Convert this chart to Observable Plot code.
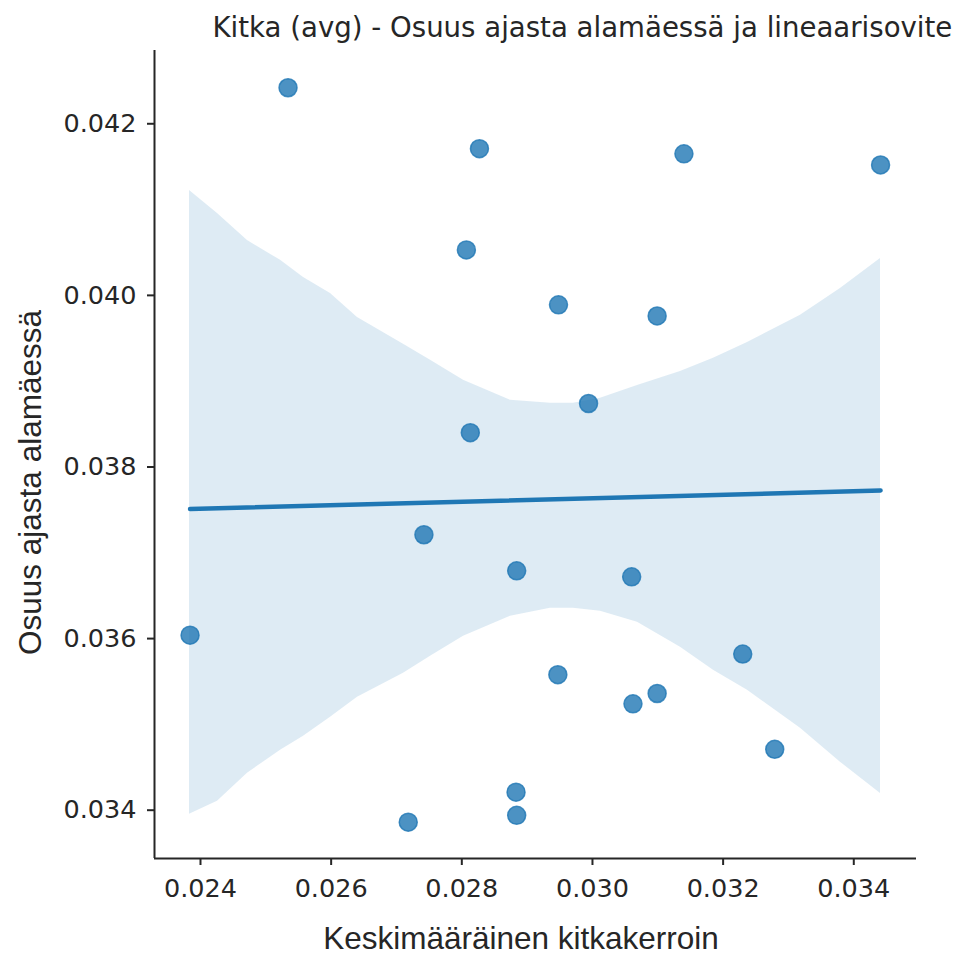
<!DOCTYPE html>
<html>
<head>
<meta charset="utf-8">
<script src="https://cdn.jsdelivr.net/npm/d3@7"></script>
<script src="https://cdn.jsdelivr.net/npm/@observablehq/plot@0.6"></script>
<style>
  html, body { margin: 0; padding: 0; background: white; overflow: hidden; }
  #chart svg { display: block; max-width: none; }
</style>
</head>
<body>
<div id="chart"></div>
<script>
// Data
const frictionAvg = [0.02534, 0.02827, 0.03140, 0.03441, 0.02807, 0.02948, 0.03099, 0.02994, 0.02813, 0.02742, 0.02884, 0.03060, 0.02384, 0.03230, 0.02947, 0.03099, 0.03062, 0.03279, 0.02883, 0.02884, 0.02718];
const downhillShare = [0.04242, 0.04171, 0.04165, 0.04152, 0.04053, 0.03989, 0.03976, 0.03874, 0.03840, 0.03721, 0.03679, 0.03672, 0.03604, 0.03582, 0.03558, 0.03536, 0.03524, 0.03471, 0.03421, 0.03394, 0.03386];
// Confidence band (bootstrap, as drawn in the reference)
const bandX = [0.023832, 0.024260, 0.024719, 0.025225, 0.025577, 0.025990, 0.026403, 0.027107, 0.027521, 0.028026, 0.028745, 0.029357, 0.029709, 0.030123, 0.030689, 0.031347, 0.031852, 0.032373, 0.033184, 0.033796, 0.034409];
const bandUpper = [0.041223, 0.040955, 0.040640, 0.040408, 0.040209, 0.040023, 0.039743, 0.039429, 0.039243, 0.039010, 0.038777, 0.038742, 0.038742, 0.038800, 0.038951, 0.039114, 0.039266, 0.039452, 0.039767, 0.040081, 0.040431];
const bandLower = [0.033954, 0.034105, 0.034431, 0.034699, 0.034862, 0.035084, 0.035317, 0.035596, 0.035794, 0.036027, 0.036260, 0.036353, 0.036353, 0.036318, 0.036190, 0.035899, 0.035631, 0.035398, 0.034955, 0.034559, 0.034195];
const xTicks = [0.024, 0.026, 0.028, 0.030, 0.032, 0.034];
const yTicks = [0.034, 0.036, 0.038, 0.040, 0.042];
const titleText = "Kitka (avg) - Osuus ajasta alamäessä ja lineaarisovite";
const xLabel = "Keskimääräinen kitkakerroin";
const yLabel = "Osuus ajasta alamäessä";

const data = frictionAvg.map((x, i) => ({x, y: downhillShare[i]}));
const band = bandX.map((x, i) => ({x, lo: bandLower[i], hi: bandUpper[i]}));
const xDomain = [0.023296, 0.034960];
const yDomain = [0.033437, 0.042854];
const ink = "#262626";
const blue = "#1f77b4";

const chart = Plot.plot({
  width: 961,
  height: 956,
  marginLeft: 154,
  marginRight: 45,
  marginTop: 50,
  marginBottom: 98,
  style: {fontFamily: "DejaVu Sans", fontSize: "25.5px", color: ink, background: "white"},
  x: {domain: xDomain},
  y: {domain: yDomain},
  marks: [
    Plot.areaY(band, {x: "x", y1: "lo", y2: "hi", fill: blue, fillOpacity: 0.15}),
    Plot.dot(data, {x: "x", y: "y", r: 9, fill: blue, fillOpacity: 0.8, stroke: blue, strokeOpacity: 0.8, strokeWidth: 1.5}),
    Plot.linearRegressionY(data, {x: "x", y: "y", ci: 0, stroke: blue, strokeWidth: 4.5}),
    Plot.ruleX([xDomain[0]], {stroke: ink, strokeWidth: 2}),
    Plot.ruleY([yDomain[0]], {stroke: ink, strokeWidth: 2}),
    Plot.axisX({ticks: xTicks, tickFormat: d3.format(".3f"), tickSize: 7, tickPadding: 13, stroke: ink, strokeWidth: 2, label: null, fill: ink}),
    Plot.axisY({ticks: yTicks, tickFormat: d3.format(".3f"), tickSize: 7, tickPadding: 11, stroke: ink, strokeWidth: 2, label: null, fill: ink}),
    Plot.text([titleText], {frameAnchor: "top-left", text: d => d, textAnchor: "start", lineAnchor: "bottom", dx: 58, dy: -14, fontSize: 27.6, fontFamily: "DejaVu Sans", fill: ink}),
    Plot.text([xLabel], {frameAnchor: "bottom", text: d => d, textAnchor: "middle", lineAnchor: "bottom", dx: -14.5, dy: 90, fontSize: 31.5, fontFamily: "Liberation Sans", fill: ink}),
    Plot.text([yLabel], {frameAnchor: "left", text: d => d, textAnchor: "middle", lineAnchor: "bottom", rotate: -90, dx: -114, dy: 28, fontSize: 31.5, fontFamily: "Liberation Sans", fill: ink})
  ]
});
document.getElementById("chart").appendChild(chart);
</script>
</body>
</html>
